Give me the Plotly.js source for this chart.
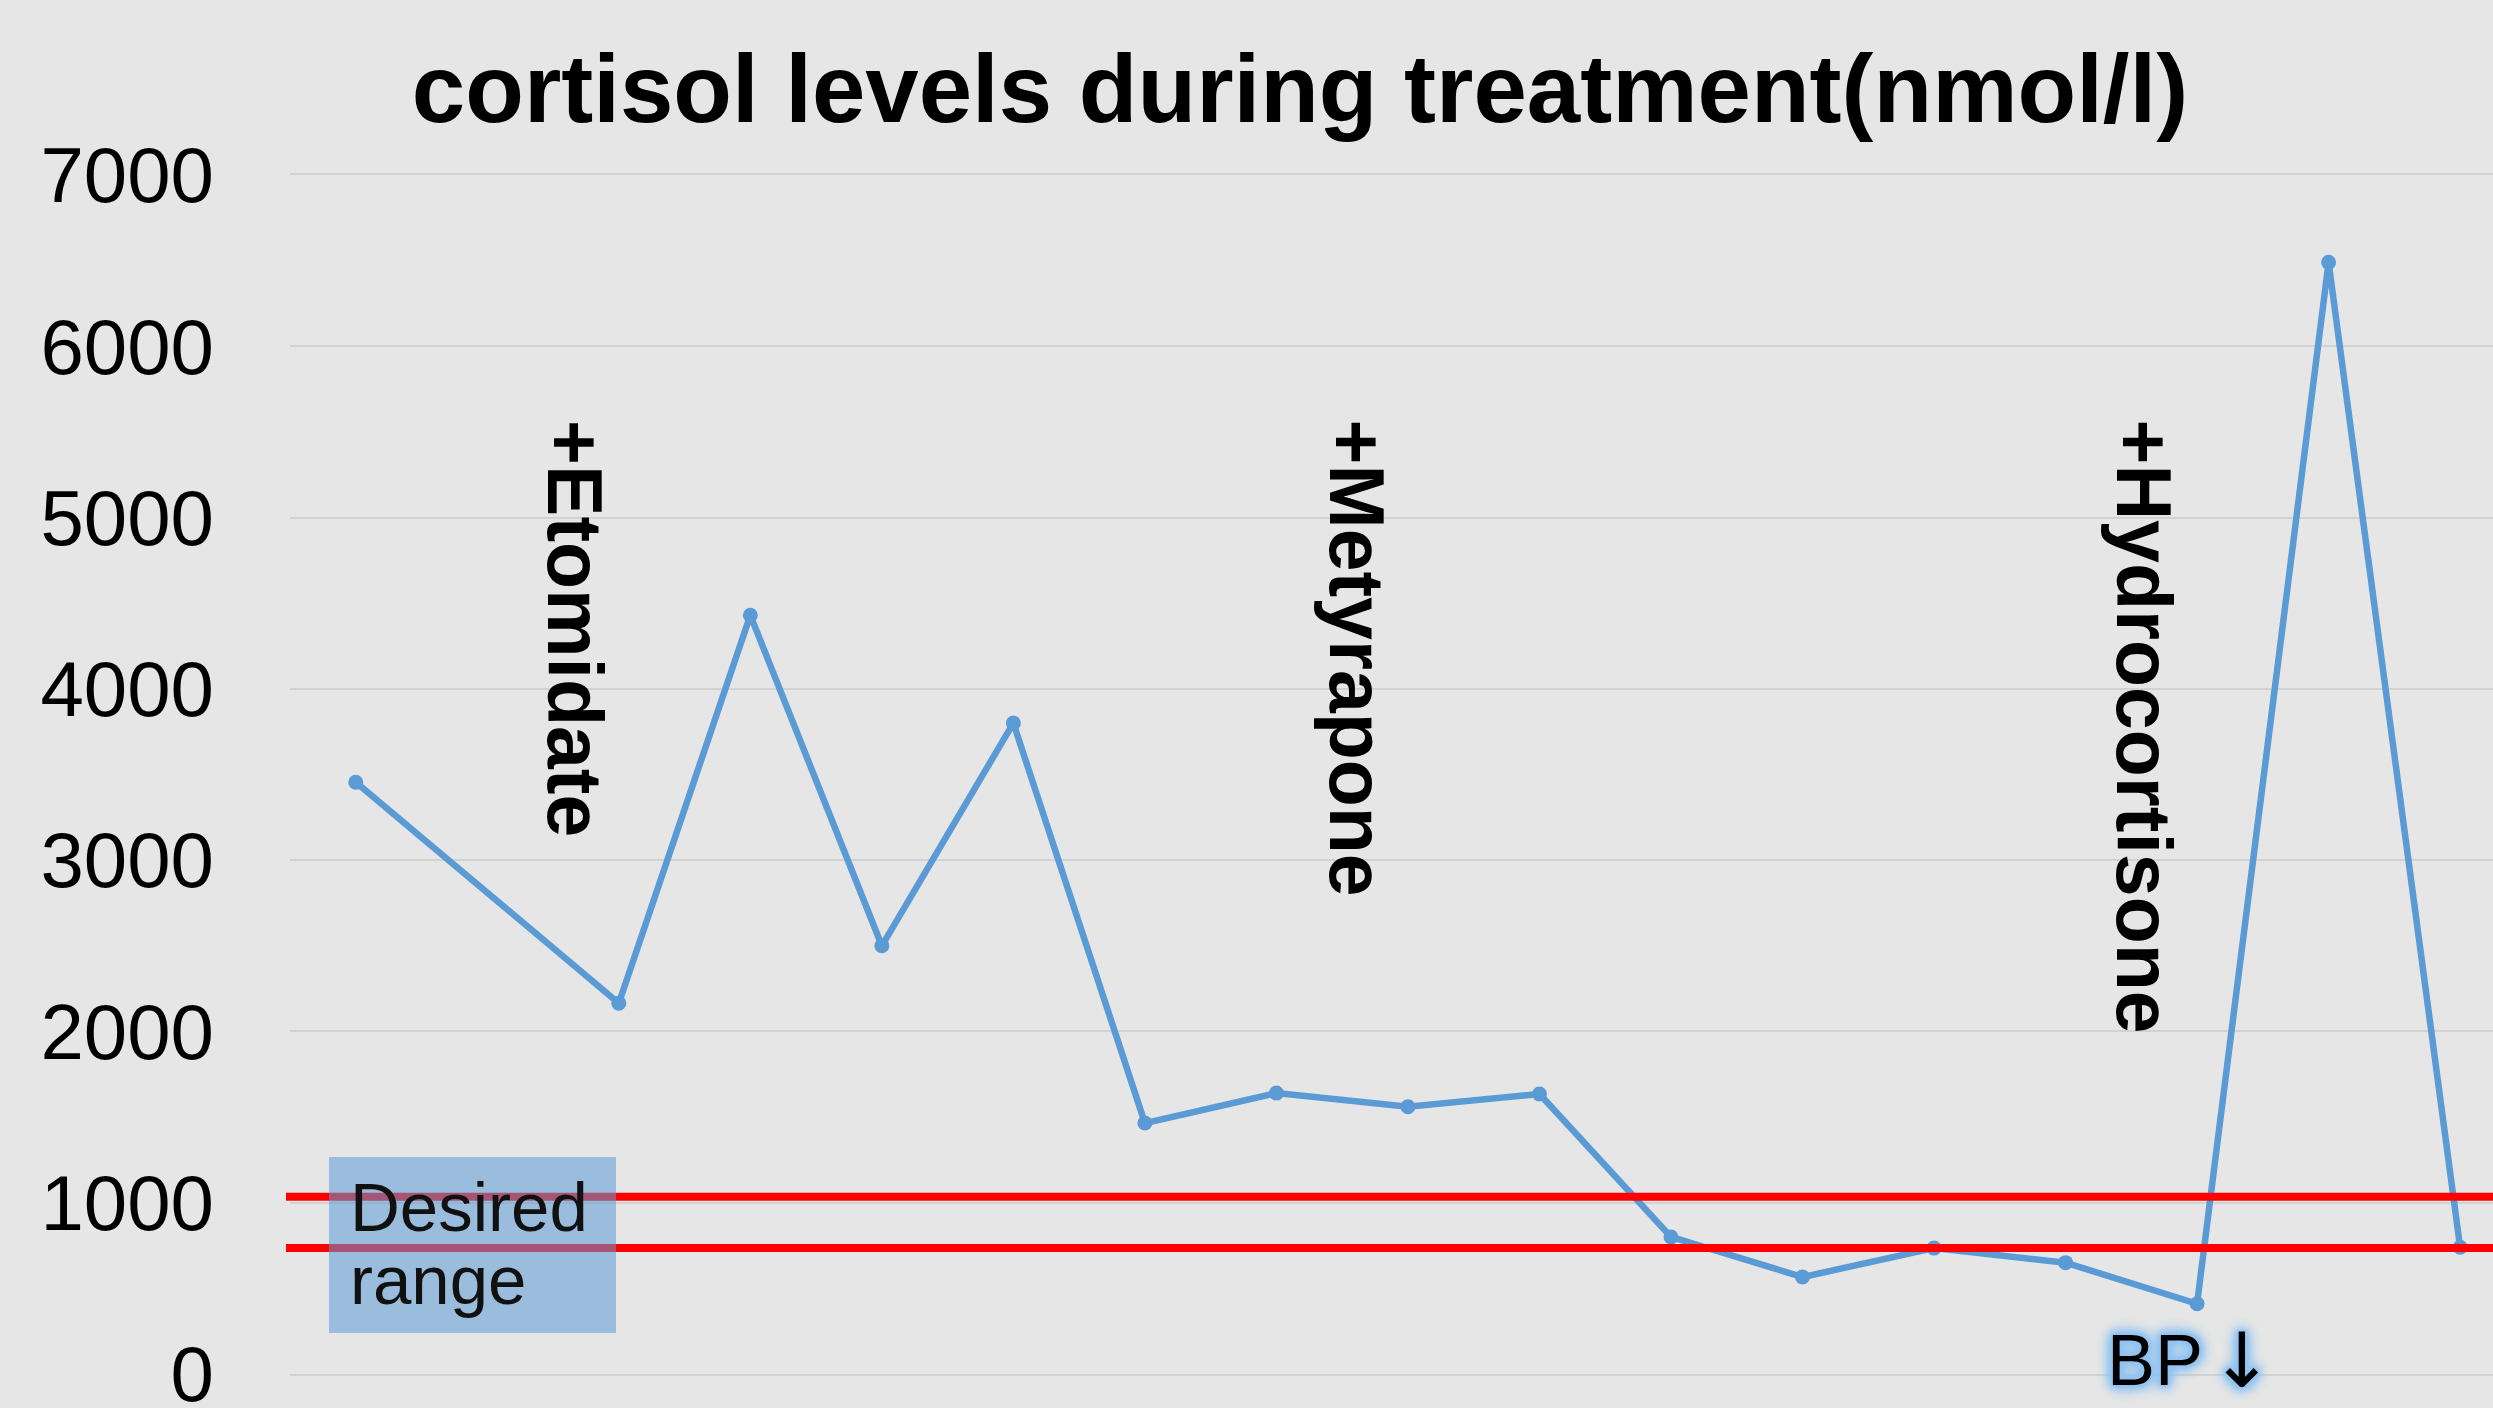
<!DOCTYPE html>
<html>
<head>
<meta charset="utf-8">
<script src="https://cdn.plot.ly/plotly-3.0.1.min.js"></script>
<style>
  html, body { margin: 0; padding: 0; background: #e6e6e6; }
  #chart { width: 2493px; height: 1408px; }
</style>
</head>
<body>
<div id="chart"></div>
<script>
// ---- data ----
const categories = ['1','2','3','4','5','6','7','8','9','10','11','12','13','14','15','16','17'];
const cortisol = [3455, null, 2165, 4430, 2500, 3800, 1465, 1640, 1560, 1635, 800, 566, 735, 650, 410, 6490, 740];
const desiredRange = [735, 1035];
const yTicks = [0, 1000, 2000, 3000, 4000, 5000, 6000, 7000];
const yTickLabels = ['0', '1000', '2000', '3000', '4000', '5000', '6000', '7000'];
const treatments = ['+Etomidate', '+Metyrapone', '+Hydrocortisone'];
const treatmentX = [1.67, 7.62, 13.6];

// ---- layout helpers ----
const W = 2493, H = 1408;
const mL = 290, mR = 0, mT = 175, mB = 34;
const plotW = W - mL - mR, plotH = H - mT - mB;
const px = v => (v - mL) / plotW;           // pixel x -> paper
const py = v => (H - mB - v) / plotH;       // pixel y -> paper

const glow = '0 0 3px #8fc3f2, 0 0 5px #8fc3f2, 0 0 7px #8fc3f2, 0 0 9px #8fc3f2, 0 0 11px #8fc3f2, 0 0 13px #8fc3f2, 0 0 15px #8fc3f2, 0 0 17px #8fc3f2';

const trace = {
  x: categories,
  y: cortisol,
  type: 'scatter',
  mode: 'lines+markers',
  connectgaps: true,
  line: { color: '#5B9BD5', width: 6.5 },
  marker: { color: '#5B9BD5', size: 15 },
  cliponaxis: false,
  hoverinfo: 'y'
};

const shapes = [
  ...desiredRange.map(v => ({
    type: 'line', xref: 'paper', yref: 'y',
    x0: px(286), x1: 1, y0: v, y1: v,
    line: { color: '#FF0000', width: 8 }, layer: 'above'
  })),
  {
    type: 'rect', xref: 'paper', yref: 'paper',
    x0: px(329), x1: px(616), y0: py(1333), y1: py(1157),
    fillcolor: 'rgba(91,155,213,0.55)', line: { width: 0 }, layer: 'above'
  }
];

const annotations = treatments.map((t, i) => ({
  text: t, xref: 'x', yref: 'paper',
  x: treatmentX[i], y: py(418),
  xanchor: 'center', yanchor: 'top',
  textangle: 90, showarrow: false,
  font: { family: 'Liberation Sans, Arial, sans-serif', size: 77, color: '#000', weight: 'bold' }
}));

annotations.push(
  {
    text: 'Desired', xref: 'paper', yref: 'paper',
    x: px(348), y: py(1207), xanchor: 'left', yanchor: 'middle',
    showarrow: false,
    font: { family: 'Liberation Sans, Arial, sans-serif', size: 69, color: '#111' }
  },
  {
    text: 'range', xref: 'paper', yref: 'paper',
    x: px(348), y: py(1280), xanchor: 'left', yanchor: 'middle',
    showarrow: false,
    font: { family: 'Liberation Sans, Arial, sans-serif', size: 69, color: '#111' }
  },
  {
    text: 'BP', xref: 'paper', yref: 'paper',
    x: px(2155), y: py(1360), xanchor: 'center', yanchor: 'middle',
    showarrow: false,
    font: { family: 'Liberation Sans, Arial, sans-serif', size: 72, color: '#000', shadow: glow }
  },
  {
    text: '↓', xref: 'paper', yref: 'paper',
    x: px(2242), y: py(1360), xanchor: 'center', yanchor: 'middle',
    showarrow: false,
    font: { family: 'DejaVu Sans, sans-serif', size: 76, color: '#000', shadow: glow }
  }
);

const layout = {
  width: W, height: H,
  margin: { l: mL, r: mR, t: mT, b: mB, pad: 0 },
  paper_bgcolor: '#e6e6e6',
  plot_bgcolor: 'rgba(0,0,0,0)',
  showlegend: false,
  title: {
    text: 'cortisol levels during treatment(nmol/l)',
    font: { family: 'Liberation Sans, Arial, sans-serif', size: 96, color: '#000', weight: 'bold' },
    xref: 'container', yref: 'container',
    x: 1300 / W, xanchor: 'center',
    y: 1 - 88 / H, yanchor: 'middle'
  },
  xaxis: {
    type: 'category',
    range: [-0.5, 16.25],
    showticklabels: false, showgrid: false, zeroline: false,
    showline: true, mirror: true, linecolor: '#d2d2d2', linewidth: 2, ticks: ''
  },
  yaxis: {
    range: [0, 7000],
    tickvals: yTicks, ticktext: yTickLabels,
    showgrid: true, gridcolor: '#d2d2d2', gridwidth: 2,
    zeroline: false, showline: false, ticks: '',
    ticklabelstandoff: 75,
    ticklabeloverflow: 'allow',
    tickfont: { family: 'Liberation Sans, Arial, sans-serif', size: 78, color: '#000' }
  },
  shapes: shapes,
  annotations: annotations
};

Plotly.newPlot('chart', [trace], layout, { displayModeBar: false, staticPlot: true });
</script>
</body>
</html>
